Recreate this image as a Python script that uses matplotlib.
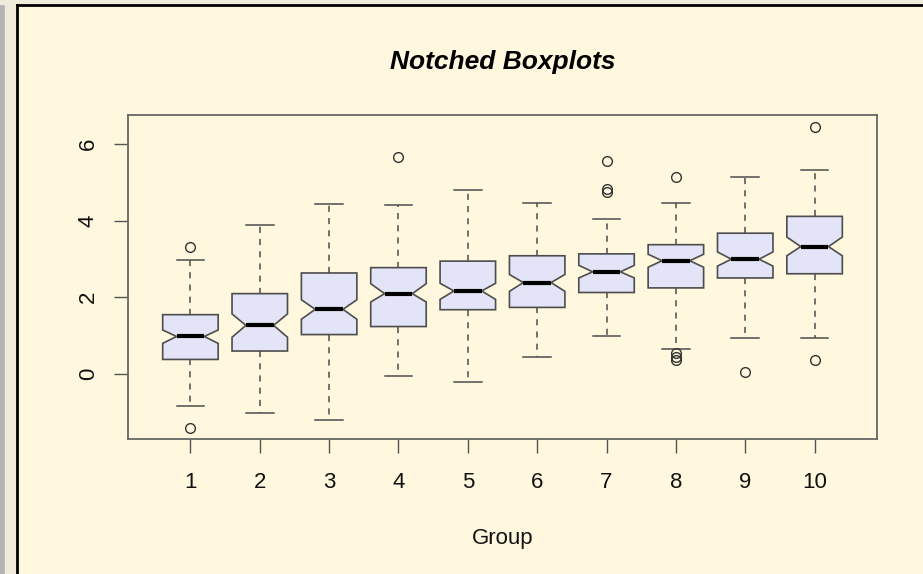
import numpy as np
import matplotlib.pyplot as plt
from matplotlib.patches import Rectangle

# values
groups = [1, 2, 3, 4, 5, 6, 7, 8, 9, 10]
whis_lo = [-0.86, -1.03, -1.21, -0.07, -0.22, 0.44, 0.99, 0.64, 0.92, 0.92]
q1 = [0.37, 0.59, 1.02, 1.23, 1.67, 1.73, 2.12, 2.24, 2.50, 2.61]
ci_lo = [0.79, 0.95, 1.42, 1.87, 1.94, 2.15, 2.50, 2.78, 2.81, 3.08]
medians = [0.97, 1.26, 1.68, 2.09, 2.16, 2.38, 2.66, 2.95, 2.99, 3.32]
ci_hi = [1.14, 1.56, 1.93, 2.35, 2.36, 2.59, 2.83, 3.12, 3.18, 3.57]
q3 = [1.54, 2.09, 2.63, 2.77, 2.94, 3.08, 3.13, 3.37, 3.67, 4.11]
whis_hi = [2.98, 3.89, 4.44, 4.42, 4.80, 4.46, 4.05, 4.47, 5.13, 5.31]
outliers = [
	[3.32, -1.43],
	[],
	[],
	[5.66],
	[],
	[],
	[5.57, 4.83, 4.75],
	[5.13, 0.54, 0.43, 0.36],
	[0.03],
	[6.45, 0.36],
]

bg = '#fff7de'
edge = '#4d4d4d'

plt.rcParams['font.family'] = ['Liberation Sans', 'DejaVu Sans']

fig = plt.figure(figsize=(9.23, 5.74), dpi=100, facecolor=bg)

# screenshot frame: grey strip on the left, black border lines
fig.patches.append(Rectangle((0, 0), 5 / 923, 1, transform=fig.transFigure, color='#b4b4b4', zorder=0))
fig.patches.append(Rectangle((5 / 923, 0), 11 / 923, 1, transform=fig.transFigure, color='#f1ebdb', zorder=0))
fig.patches.append(Rectangle((0, 1 - 4 / 574), 1, 4 / 574, transform=fig.transFigure, color='#f1ebdb', zorder=0))
fig.add_artist(plt.Line2D([17 / 923, 17 / 923], [0, 1 - 5 / 574], transform=fig.transFigure, color='black', lw=2))
fig.add_artist(plt.Line2D([17 / 923, 1], [1 - 5 / 574, 1 - 5 / 574], transform=fig.transFigure, color='black', lw=2))

ax = fig.add_axes([128 / 923, (574 - 439) / 574, (877 - 128) / 923, (439 - 115) / 574])
ax.set_facecolor(bg)

stats = []
for i in range(len(groups)):
	stats.append(dict(whislo=whis_lo[i], q1=q1[i], cilo=ci_lo[i], med=medians[i],
					  cihi=ci_hi[i], q3=q3[i], whishi=whis_hi[i], fliers=outliers[i]))

ax.bxp(stats, positions=groups, widths=0.8, shownotches=True, patch_artist=True,
	   boxprops=dict(facecolor='#e3e4f7', edgecolor=edge, linewidth=1.2),
	   medianprops=dict(color='black', linewidth=3, solid_capstyle='butt'),
	   whiskerprops=dict(color=edge, linewidth=1.1, linestyle=(0, (4, 4))),
	   capprops=dict(color=edge, linewidth=1.1),
	   flierprops=dict(marker='o', markersize=7, markerfacecolor='none',
					   markeredgecolor='#333333', markeredgewidth=1.0))

ax.set_xlim(0.1, 10.9)
ax.set_ylim(-1.71, 6.76)
ax.set_xticks(groups)
ax.set_xticklabels([str(g) for g in groups])
ax.set_yticks([0, 2, 4, 6])
ax.set_yticklabels(['0', '2', '4', '6'], rotation=90, va='center')

for s in ax.spines.values():
	s.set_color('#666666')
	s.set_linewidth(1.3)

ax.tick_params(axis='both', direction='out', length=10, width=1, color='#555555',
			   labelsize=16, labelcolor='#111111')
ax.tick_params(axis='x', pad=14)
ax.tick_params(axis='y', pad=11)

ax.set_title('Notched Boxplots', fontsize=19, fontweight='bold', fontstyle='italic', pad=33)
ax.set_xlabel('Group', fontsize=16, labelpad=25, color='#111111')

fig.savefig('out.png', dpi=100, facecolor=bg)
